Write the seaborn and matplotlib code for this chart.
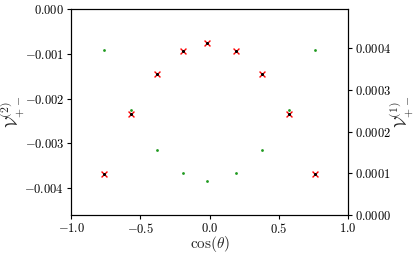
import matplotlib
matplotlib.use("Agg")
import matplotlib.pyplot as plt
import seaborn as sns
from matplotlib.ticker import FuncFormatter, MultipleLocator

# cos(theta) positions
cos_theta = [-0.76, -0.57, -0.38, -0.19, -0.02, 0.19, 0.38, 0.57, 0.76]
# second order (left axis)
v2 = [-0.00369, -0.00234, -0.00145, -0.00093, -0.00077, -0.00093, -0.00145, -0.00234, -0.00369]
# first order (right axis)
v1 = [0.000395, 0.000251, 0.000155, 0.000100, 0.0000815, 0.000100, 0.000155, 0.000251, 0.000395]

sns.set_style("ticks")
plt.rcParams["font.family"] = ["DejaVu Serif"]
plt.rcParams["mathtext.fontset"] = "cm"

fig, ax = plt.subplots(figsize=(4.16, 2.56), dpi=100)
fig.subplots_adjust(left=0.171, right=0.837, top=0.965, bottom=0.160)

sns.scatterplot(x=cos_theta, y=v2, ax=ax, marker="x", color="red", s=18, linewidth=1.0, zorder=3)
sns.scatterplot(x=cos_theta, y=v2, ax=ax, marker="o", color="black", s=5, linewidth=0, zorder=4)

ax2 = ax.twinx()
sns.scatterplot(x=cos_theta, y=v1, ax=ax2, marker="o", color="#1f9a1f", s=4, linewidth=0, zorder=5)

ax.set_xlim(-1.0, 1.0)
ax.set_ylim(-0.0046, 0.0)
ax2.set_ylim(0.0, 0.000494)

ax.xaxis.set_major_locator(MultipleLocator(0.5))
ax.yaxis.set_major_locator(MultipleLocator(0.001))
ax2.yaxis.set_major_locator(MultipleLocator(0.0001))

ax.xaxis.set_major_formatter(FuncFormatter(lambda v, p: f"${v:.1f}$"))
ax.yaxis.set_major_formatter(FuncFormatter(lambda v, p: f"${v:.3f}$"))
ax2.yaxis.set_major_formatter(FuncFormatter(lambda v, p: f"${v:.4f}$"))

for a in (ax, ax2):
    a.tick_params(labelsize=9, length=3, width=0.8, pad=2, colors="black")
    for sp in a.spines.values():
        sp.set_visible(True)
        sp.set_linewidth(0.8)
        sp.set_color("black")

ax.set_xlabel(r"$\cos(\theta)$", fontsize=11)
ax.set_ylabel(r"$\mathcal{V}^{(2)}_{+-}$", fontsize=12)
ax2.set_ylabel(r"$\mathcal{V}^{(1)}_{+-}$", fontsize=12)
ax.xaxis.set_label_coords(0.5, -0.09)
ax.yaxis.set_label_coords(-0.16, 0.5)
ax2.yaxis.set_label_coords(1.145, 0.5)

fig.savefig("out.png", dpi=100)
